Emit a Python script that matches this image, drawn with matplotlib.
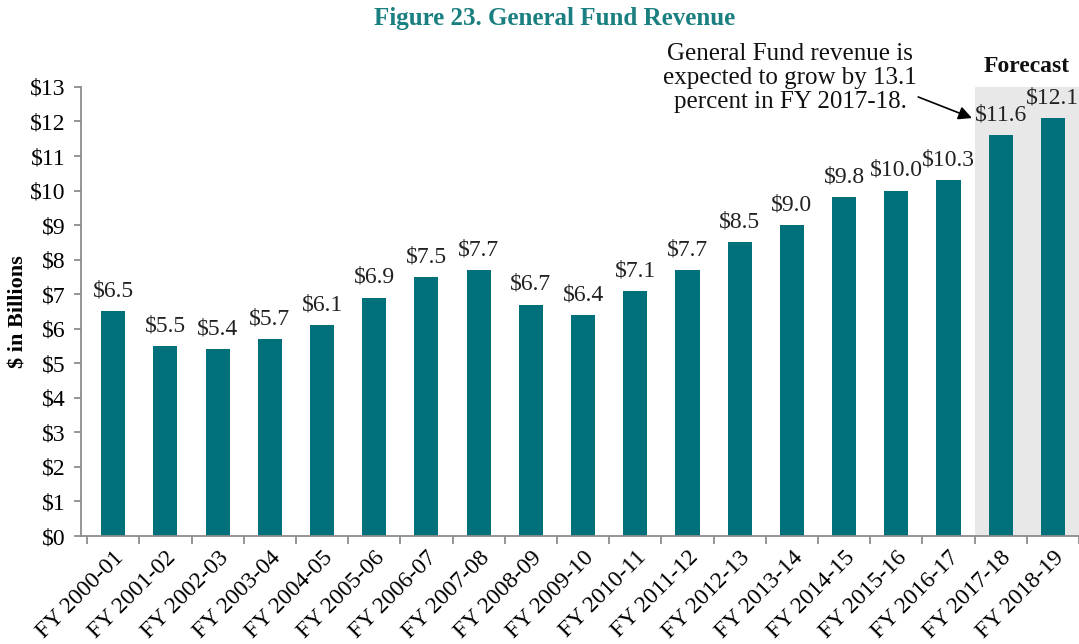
import matplotlib
matplotlib.use("Agg")
import matplotlib.pyplot as plt
from matplotlib.patches import Rectangle

plt.rcParams['font.family'] = ['Liberation Serif', 'DejaVu Serif']

years = ["FY 2000-01", "FY 2001-02", "FY 2002-03", "FY 2003-04", "FY 2004-05",
         "FY 2005-06", "FY 2006-07", "FY 2007-08", "FY 2008-09", "FY 2009-10",
         "FY 2010-11", "FY 2011-12", "FY 2012-13", "FY 2013-14", "FY 2014-15",
         "FY 2015-16", "FY 2016-17", "FY 2017-18", "FY 2018-19"]
revenue = [6.5, 5.5, 5.4, 5.7, 6.1, 6.9, 7.5, 7.7, 6.7, 6.4,
           7.1, 7.7, 8.5, 9.0, 9.8, 10.0, 10.3, 11.6, 12.1]
forecast_start = 17

teal = "#00707A"
grey = "#8C8C8C"

fig = plt.figure(figsize=(10.79, 6.44), dpi=100)
ax = fig.add_axes([0.075, 0.1677, 0.925, 0.6973])

x = list(range(len(years)))

# shaded forecast region
ax.add_patch(Rectangle((forecast_start - 0.5, 0), len(years) - forecast_start, 13,
                       facecolor="#E8E8E8", edgecolor="none", zorder=0))

ax.bar(x, revenue, width=0.46, color=teal, zorder=2)

for xi, v in zip(x, revenue):
    ax.text(xi, v + 0.28, "${:.1f}".format(v), ha="center", va="bottom",
            fontsize=17, color="#222222")

ax.set_xlim(-0.62, len(years) - 0.5)
ax.set_ylim(0, 13)
ax.set_yticks(range(0, 14))
ax.set_yticklabels(["${}".format(i) for i in range(0, 14)], fontsize=17)

ax.set_xticks(x)
ax.set_xticklabels(years, rotation=45, ha="right", rotation_mode="anchor", fontsize=17)
ax.tick_params(axis="x", length=0, pad=8)
ax.set_xticks([i - 0.5 for i in x] + [len(years) - 0.5], minor=True)
ax.tick_params(axis="x", which="minor", length=6, color=grey, width=1.3)
ax.tick_params(axis="y", length=5, color=grey, width=1.3, pad=6)

for s in ["top", "right"]:
    ax.spines[s].set_visible(False)
for s in ["left", "bottom"]:
    ax.spines[s].set_color(grey)
    ax.spines[s].set_linewidth(1.3)

ax.set_ylabel("$ in Billions", fontsize=16, fontweight="bold")
ax.yaxis.set_label_coords(-0.053, 0.5)

fig.text(0.514, 0.972, "Figure 23. General Fund Revenue", ha="center", va="center",
         fontsize=18, fontweight="bold", color="#1A7F80")

ax.text(forecast_start + 0.5, 13.3, "Forecast", ha="center", va="bottom",
        fontsize=17, fontweight="bold", color="#111111")

# callout about forecast growth
ax.text(12.97, 13.26, "General Fund revenue is\nexpected to grow by 13.1\npercent in FY 2017-18.",
        ha="center", va="center", fontsize=18, color="#111111", linespacing=1.1,
        clip_on=False)
ax.annotate("", xy=(16.45, 12.1), xytext=(15.42, 12.71),
            arrowprops=dict(arrowstyle="-|>", color="black", lw=1.2,
                            mutation_scale=20, shrinkA=0, shrinkB=0),
            annotation_clip=False)

fig.savefig("out.png", dpi=100)
